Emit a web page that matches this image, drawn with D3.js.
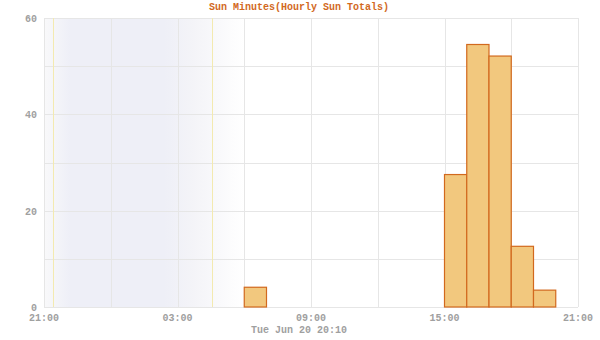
<!DOCTYPE html>
<html>
<head>
<meta charset="utf-8">
<script src="https://cdn.jsdelivr.net/npm/d3@7"></script>
<style>
  body { margin: 0; background: #fff; }
  text { font-family: "Liberation Mono", "DejaVu Sans Mono", monospace; font-weight: bold; }
</style>
</head>
<body>
<div id="chart"></div>
<script>
// hourly bins starting at 21:00 on Jun 19 (values in minutes of sun)
const binHours = [21, 22, 23, 0, 1, 2, 3, 4, 5, 6, 7, 8, 9, 10, 11, 12, 13, 14, 15, 16, 17, 18, 19];
const sunMinutes = [0, 0, 0, 0, 0, 0, 0, 0, 0, 4.1, 0, 0, 0, 0, 0, 0, 0, 0, 27.5, 54.5, 52.1, 12.6, 3.5];
const yTicks = [0, 20, 40, 60];
const xTickHours = [0, 6, 12, 18, 24]; // hours after start
const sunset = "2023-06-19T21:25Z";
const sunrise = "2023-06-20T04:32Z";
const startTime = "2023-06-19T21:00Z";
const endTime = "2023-06-20T21:00Z";
const titleText = "Sun Minutes(Hourly Sun Totals)";
const xLabelText = "Tue Jun 20 20:10";

const width = 600, height = 340;
const margin = {top: 18, right: 22, bottom: 33, left: 44};

const t0 = new Date(startTime);
const data = binHours.map((h, i) => {
    const start = d3.utcHour.offset(t0, i);
    return {start: start, end: d3.utcHour.offset(start, 1), value: sunMinutes[i]};
});

const svg = d3.select("#chart")
    .append("svg")
    .attr("width", width)
    .attr("height", height);

const x = d3.scaleUtc()
    .domain([t0, new Date(endTime)])
    .range([margin.left, width - margin.right]);

const y = d3.scaleLinear()
    .domain([0, 60])
    .range([height - margin.bottom, margin.top]);

// night shading gradient
const defs = svg.append("defs");
const grad = defs.append("linearGradient")
    .attr("id", "night")
    .attr("gradientUnits", "userSpaceOnUse")
    .attr("x1", x(t0)).attr("x2", x(d3.utcHour.offset(t0, 9)))
    .attr("y1", 0).attr("y2", 0);
[[0, "#f9f9fa"], [0.13, "#eeeff7"], [0.6, "#eeeff7"], [0.75, "#f4f4f8"], [1, "#ffffff"]]
    .forEach(s => grad.append("stop").attr("offset", s[0]).attr("stop-color", s[1]));

svg.append("rect")
    .attr("x", x(t0))
    .attr("y", margin.top)
    .attr("width", x(d3.utcHour.offset(t0, 9)) - x(t0))
    .attr("height", y(0) - margin.top)
    .attr("fill", "url(#night)");

// gridlines
svg.append("g")
    .selectAll("line")
    .data(d3.range(0, 25, 3).map(h => d3.utcHour.offset(t0, h)))
    .join("line")
    .attr("x1", d => Math.round(x(d)) + 0.5)
    .attr("x2", d => Math.round(x(d)) + 0.5)
    .attr("y1", margin.top)
    .attr("y2", y(0))
    .attr("stroke", "#e6e6e6");

svg.append("g")
    .selectAll("line")
    .data(d3.range(0, 61, 10))
    .join("line")
    .attr("x1", margin.left)
    .attr("x2", width - margin.right)
    .attr("y1", d => Math.round(y(d)) + 0.5)
    .attr("y2", d => Math.round(y(d)) + 0.5)
    .attr("stroke", "#e6e6e6");

// sunset / sunrise markers
svg.append("g")
    .selectAll("line")
    .data([new Date(sunset), new Date(sunrise)])
    .join("line")
    .attr("x1", d => Math.round(x(d)) + 0.5)
    .attr("x2", d => Math.round(x(d)) + 0.5)
    .attr("y1", margin.top)
    .attr("y2", y(0))
    .attr("stroke", "#f3eab0");

// bars
svg.append("g")
    .selectAll("rect")
    .data(data)
    .join("rect")
    .attr("x", d => x(d.start))
    .attr("y", d => y(d.value))
    .attr("width", d => x(d.end) - x(d.start))
    .attr("height", d => y(0) - y(d.value))
    .attr("fill", "#f2c87e")
    .attr("stroke", "#d2691e")
    .attr("stroke-width", 1.2);

// y labels
svg.append("g")
    .selectAll("text")
    .data(yTicks)
    .join("text")
    .attr("x", margin.left - 7)
    .attr("y", d => y(d) + 4)
    .attr("text-anchor", "end")
    .attr("fill", "#a0a0a0")
    .style("font-size", "10px")
    .text(d => d);

// x labels
svg.append("g")
    .selectAll("text")
    .data(xTickHours.map(h => d3.utcHour.offset(t0, h)))
    .join("text")
    .attr("x", d => x(d))
    .attr("y", height - 19)
    .attr("text-anchor", "middle")
    .attr("fill", "#a0a0a0")
    .style("font-size", "10px")
    .text(d => d3.utcFormat("%H:%M")(d));

svg.append("text")
    .attr("x", 299)
    .attr("y", height - 7)
    .attr("text-anchor", "middle")
    .attr("fill", "#a0a0a0")
    .style("font-size", "10px")
    .text(xLabelText);

svg.append("text")
    .attr("x", 299)
    .attr("y", 10)
    .attr("text-anchor", "middle")
    .attr("fill", "#d2691e")
    .style("font-size", "10px")
    .text(titleText);
</script>
</body>
</html>
